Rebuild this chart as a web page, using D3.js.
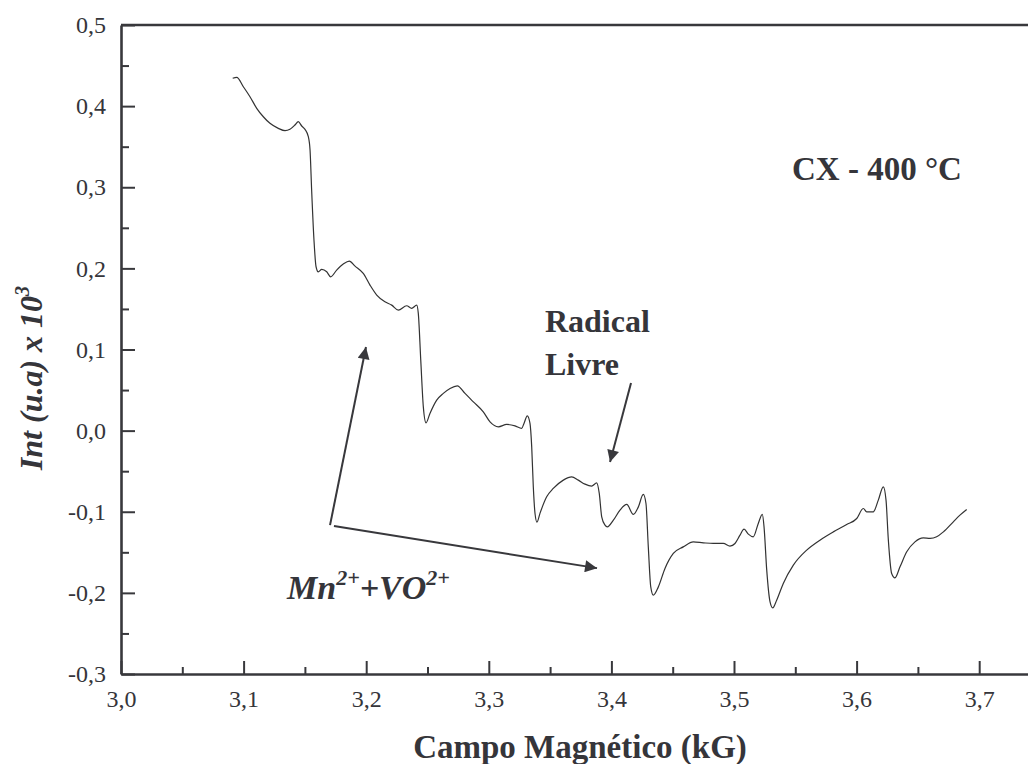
<!DOCTYPE html>
<html>
<head>
<meta charset="utf-8">
<script src="https://cdn.jsdelivr.net/npm/d3@7"></script>
<style>
  body { margin: 0; background: #fff; }
  text { font-family: "Liberation Serif", "Times New Roman", serif; fill: #35353a; }
  .axis path, .axis line { stroke: #38383c; }
  .axis text { font-size: 24px; fill: #35353a; font-family: "Liberation Serif", serif; }
</style>
</head>
<body>
<div id="chart"></div>
<script>
// EPR spectrum
var field = [3.0911, 3.0944, 3.0998, 3.1052, 3.1107, 3.1161, 3.1215, 3.1283, 3.1338, 3.1378,
  3.1419, 3.1446, 3.1474, 3.1501, 3.1528, 3.1542, 3.1555, 3.1574, 3.1591, 3.1609,
  3.1637, 3.1678, 3.1710, 3.1759, 3.1813, 3.1862, 3.1909, 3.1976, 3.2031, 3.2086,
  3.2153, 3.2208, 3.2262, 3.2330, 3.2371, 3.2412, 3.2425, 3.2445, 3.2466, 3.2488,
  3.2520, 3.2575, 3.2629, 3.2684, 3.2743, 3.2806, 3.2874, 3.2955, 3.3010, 3.3078,
  3.3146, 3.3214, 3.3268, 3.3287, 3.3314, 3.3336, 3.3350, 3.3363, 3.3377, 3.3393,
  3.3418, 3.3472, 3.3526, 3.3608, 3.3676, 3.3730, 3.3785, 3.3839, 3.3880, 3.3901,
  3.3921, 3.3948, 3.3967, 3.4016, 3.4070, 3.4125, 3.4179, 3.4220, 3.4260, 3.4282,
  3.4301, 3.4321, 3.4342, 3.4383, 3.4437, 3.4505, 3.4586, 3.4668, 3.4750, 3.4831,
  3.4913, 3.4967, 3.5008, 3.5049, 3.5082, 3.5117, 3.5157, 3.5198, 3.5231, 3.5245,
  3.5267, 3.5294, 3.5316, 3.5348, 3.5402, 3.5484, 3.5593, 3.5701, 3.5810, 3.5919,
  3.6001, 3.6055, 3.6082, 3.6136, 3.6177, 3.6218, 3.6240, 3.6259, 3.6286, 3.6313,
  3.6354, 3.6409, 3.6476, 3.6544, 3.6599, 3.6653, 3.6708, 3.6789, 3.6843, 3.6898];

var intensity = [0.4343, 0.4355, 0.4239, 0.4116, 0.3973, 0.3869, 0.3788, 0.3726, 0.3697, 0.3714,
  0.3767, 0.3808, 0.3755, 0.3714, 0.3623, 0.3459, 0.2965, 0.2349, 0.2020, 0.1958,
  0.1988, 0.1958, 0.1896, 0.1979, 0.2053, 0.2090, 0.2028, 0.1938, 0.1794, 0.1671,
  0.1588, 0.1547, 0.1486, 0.1539, 0.1507, 0.1547, 0.1445, 0.0869, 0.0293, 0.0096,
  0.0212, 0.0376, 0.0459, 0.0520, 0.0552, 0.0459, 0.0355, 0.0232, 0.0108, 0.0047,
  0.0076, 0.0059, 0.0027, 0.0089, 0.0183, 0.0089, -0.0200, -0.0693, -0.1021, -0.1128,
  -0.1017, -0.0816, -0.0713, -0.0610, -0.0570, -0.0610, -0.0660, -0.0684, -0.0644, -0.0774,
  -0.1063, -0.1165, -0.1186, -0.1104, -0.0980, -0.0910, -0.1033, -0.0940, -0.0787, -0.0898,
  -0.1433, -0.1926, -0.2028, -0.1926, -0.1699, -0.1514, -0.1433, -0.1371, -0.1383, -0.1391,
  -0.1391, -0.1424, -0.1391, -0.1289, -0.1215, -0.1276, -0.1309, -0.1144, -0.1033, -0.1186,
  -0.1720, -0.2111, -0.2185, -0.2090, -0.1884, -0.1658, -0.1473, -0.1350, -0.1248, -0.1157,
  -0.1083, -0.0960, -0.1001, -0.1001, -0.0857, -0.0693, -0.0857, -0.1350, -0.1761, -0.1815,
  -0.1679, -0.1494, -0.1371, -0.1322, -0.1329, -0.1309, -0.1248, -0.1124, -0.1042, -0.0972];

var xTicks = [3.0, 3.1, 3.2, 3.3, 3.4, 3.5, 3.6, 3.7];
var xMinorTicks = [3.05, 3.15, 3.25, 3.35, 3.45, 3.55, 3.65];
var yTicks = [-0.3, -0.2, -0.1, 0.0, 0.1, 0.2, 0.3, 0.4, 0.5];
var yMinorTicks = [-0.25, -0.15, -0.05, 0.05, 0.15, 0.25, 0.35, 0.45];

// annotation arrows: [x1, y1, x2, y2] in data units
var arrows = [
  [3.1705, -0.1165, 3.1998, 0.1030],
  [3.1737, -0.1177, 3.3883, -0.1695],
  [3.4160, 0.0586, 3.3989, -0.0388]
];

var margin = {top: 25, left: 121},
    width = 919.5,
    height = 649;

var svg = d3.select('#chart').append('svg')
    .attr('width', 1028)
    .attr('height', 764);

var g = svg.append('g')
    .attr('transform', 'translate(' + margin.left + ',' + margin.top + ')');

var x = d3.scaleLinear().domain([3.0, 3.75]).range([0, width]);
var y = d3.scaleLinear().domain([-0.3, 0.5]).range([height, 0]);

var fmt = function(d) { return d.toFixed(1).replace('.', ','); };

// minor ticks
g.append('g')
    .attr('class', 'axis')
    .attr('transform', 'translate(0,' + height + ')')
    .call(d3.axisBottom(x).tickValues(xMinorTicks).tickSizeInner(-7).tickSizeOuter(0).tickFormat(''))
    .call(function(s) { s.select('.domain').remove(); s.selectAll('line').attr('stroke-width', 2); });

g.append('g')
    .attr('class', 'axis')
    .call(d3.axisLeft(y).tickValues(yMinorTicks).tickSizeInner(-8).tickSizeOuter(0).tickFormat(''))
    .call(function(s) { s.select('.domain').remove(); s.selectAll('line').attr('stroke-width', 2); });

// major axes
g.append('g')
    .attr('class', 'axis')
    .attr('transform', 'translate(0,' + height + ')')
    .call(d3.axisBottom(x).tickValues(xTicks).tickSizeInner(-13).tickSizeOuter(0).tickPadding(16).tickFormat(fmt))
    .call(function(s) {
      s.select('.domain').attr('stroke-width', 2.6);
      s.selectAll('line').attr('stroke-width', 2);
    });

g.append('g')
    .attr('class', 'axis')
    .call(d3.axisLeft(y).tickValues(yTicks).tickSizeInner(-14).tickSizeOuter(0).tickPadding(15).tickFormat(fmt))
    .call(function(s) {
      s.select('.domain').attr('stroke-width', 2.6);
      s.selectAll('line').attr('stroke-width', 2);
    });

// top frame line
g.append('line')
    .attr('x1', 0).attr('x2', width)
    .attr('y1', 0).attr('y2', 0)
    .attr('stroke', '#38383c')
    .attr('stroke-width', 2.6);

// the spectrum
var pts = field.map(function(f, i) { return [f, intensity[i]]; });
var line = d3.line()
    .x(function(d) { return x(d[0]); })
    .y(function(d) { return y(d[1]); })
    .curve(d3.curveMonotoneX);

g.append('path')
    .datum(pts)
    .attr('fill', 'none')
    .attr('stroke', '#333')
    .attr('stroke-width', 1.2)
    .attr('d', line);

// arrows
svg.append('defs').append('marker')
    .attr('id', 'head')
    .attr('viewBox', '0 0 10 10')
    .attr('refX', 10).attr('refY', 5)
    .attr('markerWidth', 8).attr('markerHeight', 6)
    .attr('markerUnits', 'strokeWidth')
    .attr('orient', 'auto')
    .append('path')
    .attr('d', 'M0,0 L10,5 L0,10 Z')
    .attr('fill', '#38383c');

g.selectAll('.arrow')
    .data(arrows)
    .enter().append('line')
    .attr('class', 'arrow')
    .attr('x1', function(d) { return x(d[0]); })
    .attr('y1', function(d) { return y(d[1]); })
    .attr('x2', function(d) { return x(d[2]); })
    .attr('y2', function(d) { return y(d[3]); })
    .attr('stroke', '#38383c')
    .attr('stroke-width', 2)
    .attr('marker-end', 'url(#head)');

// labels
g.append('text')
    .attr('x', x(3.5473)).attr('y', y(0.3089))
    .attr('font-size', '33px').attr('font-weight', 'bold')
    .text('CX - 400 °C');

g.append('text')
    .attr('x', x(3.3458)).attr('y', y(0.1215))
    .attr('font-size', '32px').attr('font-weight', 'bold')
    .text('Radical');

g.append('text')
    .attr('x', x(3.3458)).attr('y', y(0.0684))
    .attr('font-size', '32px').attr('font-weight', 'bold')
    .text('Livre');

var mn = g.append('text')
    .attr('x', x(3.1354)).attr('y', y(-0.2078))
    .attr('font-size', '34px').attr('font-weight', 'bold').attr('font-style', 'italic');
mn.append('tspan').text('Mn');
mn.append('tspan').attr('font-size', '22px').attr('dy', -14).text('2+');
mn.append('tspan').attr('dy', 14).text('+VO');
mn.append('tspan').attr('font-size', '22px').attr('dy', -14).text('2+');

// axis titles
svg.append('text')
    .attr('x', 580).attr('y', 758)
    .attr('text-anchor', 'middle')
    .attr('font-size', '33px').attr('font-weight', 'bold')
    .text('Campo Magnético (kG)');

var yt = svg.append('text')
    .attr('transform', 'translate(42,378) rotate(-90)')
    .attr('text-anchor', 'middle')
    .attr('font-size', '32px').attr('font-weight', 'bold').attr('font-style', 'italic');
yt.append('tspan').text('Int (u.a) x 10');
yt.append('tspan').attr('font-size', '20px').attr('dy', -13).text('3');
</script>
</body>
</html>
